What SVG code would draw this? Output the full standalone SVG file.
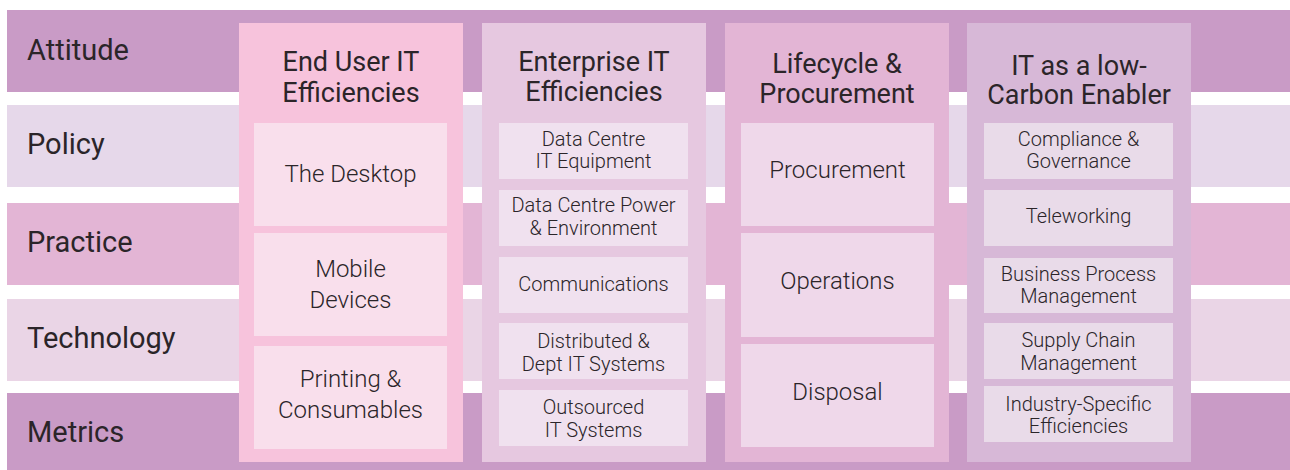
<svg xmlns="http://www.w3.org/2000/svg" width="1290" height="470" viewBox="0 0 1290 470">
  <style>
    text { font-family: Roboto, "Noto Sans", "Liberation Sans", sans-serif; fill: #2b2529; text-anchor: middle; }
    .row { font-size: 29px; text-anchor: start; }
    .head { font-size: 27px; }
    .big { font-size: 24px; font-weight: 300; }
    .small { font-size: 20px; font-weight: 300; }
    .b-dark { fill: #c99bc6; }
    .b-pale { fill: #e6d8ea; }
    .b-mid { fill: #e3b5d5; }
    .b-soft { fill: #ead5e6; }
  </style>

  <!-- horizontal bands -->
  <g id="bands">
    <g id="attitude"><rect class="b-dark" x="7" y="10" width="1283" height="82"/><text class="row" x="27" y="60">Attitude</text></g>
    <g id="policy"><rect class="b-pale" x="7" y="105" width="1283" height="82"/><text class="row" x="27" y="154">Policy</text></g>
    <g id="practice"><rect class="b-mid" x="7" y="203" width="1283" height="82"/><text class="row" x="27" y="252">Practice</text></g>
    <g id="technology"><rect class="b-soft" x="7" y="299" width="1283" height="82"/><text class="row" x="27" y="348">Technology</text></g>
    <g id="metrics"><rect class="b-dark" x="7" y="393" width="1283" height="77"/><text class="row" x="27" y="442">Metrics</text></g>
  </g>

  <!-- column 1 -->
  <g id="end-user">
    <rect x="239" y="23" width="224" height="439" fill="#f7c3dc"/>
    <text class="head" x="351" y="71">End User IT</text>
    <text class="head" x="351" y="102">Efficiencies</text>
    <g fill="#f9dfec">
      <rect x="254" y="123" width="193" height="103"/>
      <rect x="254" y="233" width="193" height="103"/>
      <rect x="254" y="346" width="193" height="103"/>
    </g>
    <text class="big" x="350.5" y="182">The Desktop</text>
    <text class="big" x="350.5" y="277">Mobile</text>
    <text class="big" x="350.5" y="308">Devices</text>
    <text class="big" x="350.5" y="387">Printing &amp;</text>
    <text class="big" x="350.5" y="418">Consumables</text>
  </g>

  <!-- column 2 -->
  <g id="enterprise">
    <rect x="482" y="23" width="224" height="439" fill="#e6c8e0"/>
    <text class="head" x="594" y="71">Enterprise IT</text>
    <text class="head" x="594" y="101">Efficiencies</text>
    <g fill="#f0e1ef">
      <rect x="499" y="123" width="189" height="56"/>
      <rect x="499" y="190" width="189" height="56"/>
      <rect x="499" y="257" width="189" height="56"/>
      <rect x="499" y="323" width="189" height="56"/>
      <rect x="499" y="390" width="189" height="56"/>
    </g>
    <text class="small" x="593.5" y="146">Data Centre</text>
    <text class="small" x="593.5" y="168">IT Equipment</text>
    <text class="small" x="593.5" y="212">Data Centre Power</text>
    <text class="small" x="593.5" y="235">&amp; Environment</text>
    <text class="small" x="593.5" y="291">Communications</text>
    <text class="small" x="593.5" y="348">Distributed &amp;</text>
    <text class="small" x="593.5" y="371">Dept IT Systems</text>
    <text class="small" x="593.5" y="414">Outsourced</text>
    <text class="small" x="593.5" y="437">IT Systems</text>
  </g>

  <!-- column 3 -->
  <g id="lifecycle">
    <rect x="725" y="23" width="224" height="439" fill="#e3b5d5"/>
    <text class="head" x="837" y="73">Lifecycle &amp;</text>
    <text class="head" x="837" y="103">Procurement</text>
    <g fill="#efd8ea">
      <rect x="741" y="123" width="193" height="103"/>
      <rect x="741" y="233" width="193" height="104"/>
      <rect x="741" y="344" width="193" height="103"/>
    </g>
    <text class="big" x="837.5" y="178">Procurement</text>
    <text class="big" x="837.5" y="289">Operations</text>
    <text class="big" x="837.5" y="400">Disposal</text>
  </g>

  <!-- column 4 -->
  <g id="low-carbon">
    <rect x="967" y="23" width="224" height="439" fill="#d7b8d7"/>
    <text class="head" x="1079" y="75">IT as a low-</text>
    <text class="head" x="1079" y="104">Carbon Enabler</text>
    <g fill="#e9dbe9">
      <rect x="984" y="123" width="189" height="56"/>
      <rect x="984" y="190" width="189" height="56"/>
      <rect x="984" y="258" width="189" height="55"/>
      <rect x="984" y="323" width="189" height="56"/>
      <rect x="984" y="386" width="189" height="56"/>
    </g>
    <text class="small" x="1078.5" y="146">Compliance &amp;</text>
    <text class="small" x="1078.5" y="168">Governance</text>
    <text class="small" x="1078.5" y="223">Teleworking</text>
    <text class="small" x="1078.5" y="281">Business Process</text>
    <text class="small" x="1078.5" y="303">Management</text>
    <text class="small" x="1078.5" y="347">Supply Chain</text>
    <text class="small" x="1078.5" y="370">Management</text>
    <text class="small" x="1078.5" y="411">Industry-Specific</text>
    <text class="small" x="1078.5" y="433">Efficiencies</text>
  </g>
</svg>
